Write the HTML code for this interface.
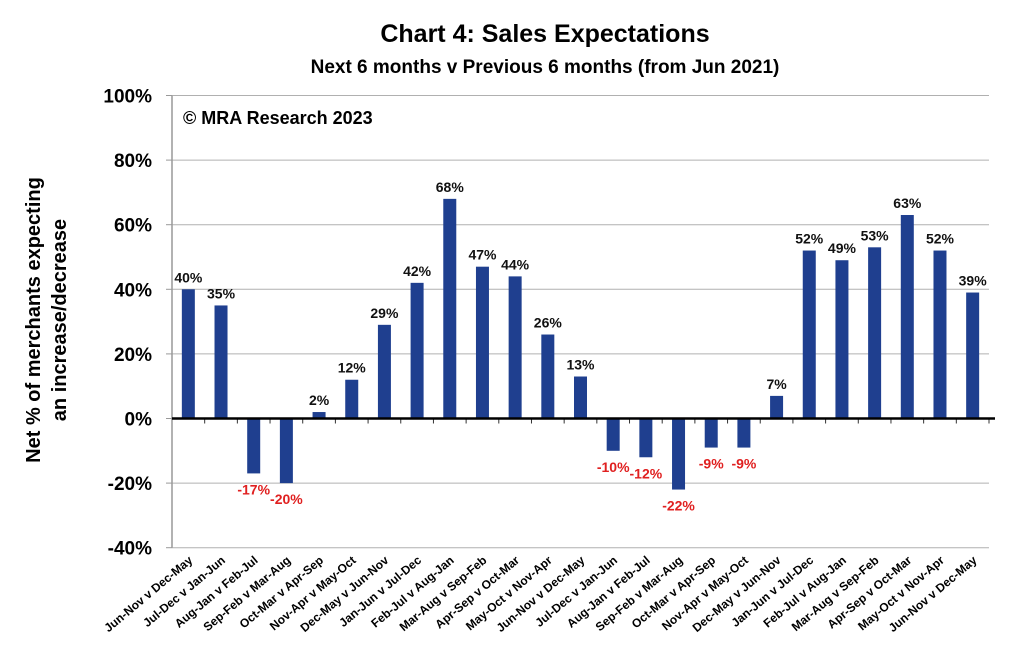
<!DOCTYPE html>
<html><head><meta charset="utf-8"><style>
body{margin:0;background:#fff;}
svg text{font-family:"Liberation Sans",sans-serif;font-weight:bold;}
</style></head><body>
<svg width="1026" height="654">
<text x="545" y="42" text-anchor="middle" font-size="25">Chart 4: Sales Expectations</text>
<text x="545" y="73" text-anchor="middle" font-size="19">Next 6 months v Previous 6 months (from Jun 2021)</text>
<text x="183" y="124" font-size="18">© MRA Research 2023</text>
<g transform="translate(40,320) rotate(-90)">
<text x="0" y="0" text-anchor="middle" font-size="20">Net % of merchants expecting</text>
<text x="0" y="26" text-anchor="middle" font-size="20">an increase/decrease</text>
</g>
<g id="grid"></g><g id="bars"></g><g id="labels"></g><g id="axes"></g>
</svg>
<script>
const categories=["Jun-Nov v Dec-May","Jul-Dec v Jan-Jun","Aug-Jan v Feb-Jul","Sep-Feb v Mar-Aug","Oct-Mar v Apr-Sep","Nov-Apr v May-Oct","Dec-May v Jun-Nov","Jan-Jun v Jul-Dec","Feb-Jul v Aug-Jan","Mar-Aug v Sep-Feb","Apr-Sep v Oct-Mar","May-Oct v Nov-Apr","Jun-Nov v Dec-May","Jul-Dec v Jan-Jun","Aug-Jan v Feb-Jul","Sep-Feb v Mar-Aug","Oct-Mar v Apr-Sep","Nov-Apr v May-Oct","Dec-May v Jun-Nov","Jan-Jun v Jul-Dec","Feb-Jul v Aug-Jan","Mar-Aug v Sep-Feb","Apr-Sep v Oct-Mar","May-Oct v Nov-Apr","Jun-Nov v Dec-May"];
const values=[40,35,-17,-20,2,12,29,42,68,47,44,26,13,-10,-12,-22,-9,-9,7,52,49,53,63,52,39];
const ticks=[-40,-20,0,20,40,60,80,100];
const NS="http://www.w3.org/2000/svg";
const x0=172,x1=989,yZero=418.5,pxPer=64.6/20;
const bw=(x1-x0)/categories.length;
const y=v=>yZero-v*pxPer;
const xc=i=>x0+bw*(i+0.5);
function mk(t,a,p){const e=document.createElementNS(NS,t);for(const k in a)e.setAttribute(k,a[k]);document.getElementById(p).appendChild(e);return e;}
ticks.forEach(t=>{
 if(t!==0){const g=mk('line',{x1:x0,x2:x1,y1:y(t),y2:y(t),stroke:'#b0b0b0','stroke-width':1},'grid');
 
 }
 const l=mk('text',{x:152,y:y(t)+7,'text-anchor':'end','font-size':19},'axes');
 
 
 l.textContent=t+'%';
 const tk=mk('line',{x1:x0-6,x2:x0,y1:y(t),y2:y(t),stroke:'#999'},'axes');
 
 
});
const ya=mk('line',{x1:x0,x2:x0,y1:y(100),y2:y(-40),stroke:'#999','stroke-width':1.5},'axes');


values.forEach((v,i)=>{
 const b=mk('rect',{x:xc(i)-6.5,y:Math.min(y(v),yZero),width:13,height:Math.abs(y(v)-yZero),fill:'#1f3f8f'},'bars');
 
 
 const t=mk('text',{x:xc(i),y:v>=0?y(v)-7:y(v)+21,'text-anchor':'middle','font-size':14,fill:v>=0?'#111':'#e02020'},'labels');
 
 
 t.textContent=v+'%';
 const tk=mk('line',{x1:x0+bw*(i+1),x2:x0+bw*(i+1),y1:yZero,y2:yZero+5,stroke:'#333'},'axes');
 
 
 const c=mk('text',{transform:`translate(${xc(i)+5},${yZero+143}) rotate(-40)`,'text-anchor':'end','font-size':12},'axes');
 
 
 c.textContent=categories[i];
});
const za=mk('line',{x1:x0,x2:x1+6,y1:yZero,y2:yZero,stroke:'#000','stroke-width':2.5},'axes');


</script>
</body></html>
